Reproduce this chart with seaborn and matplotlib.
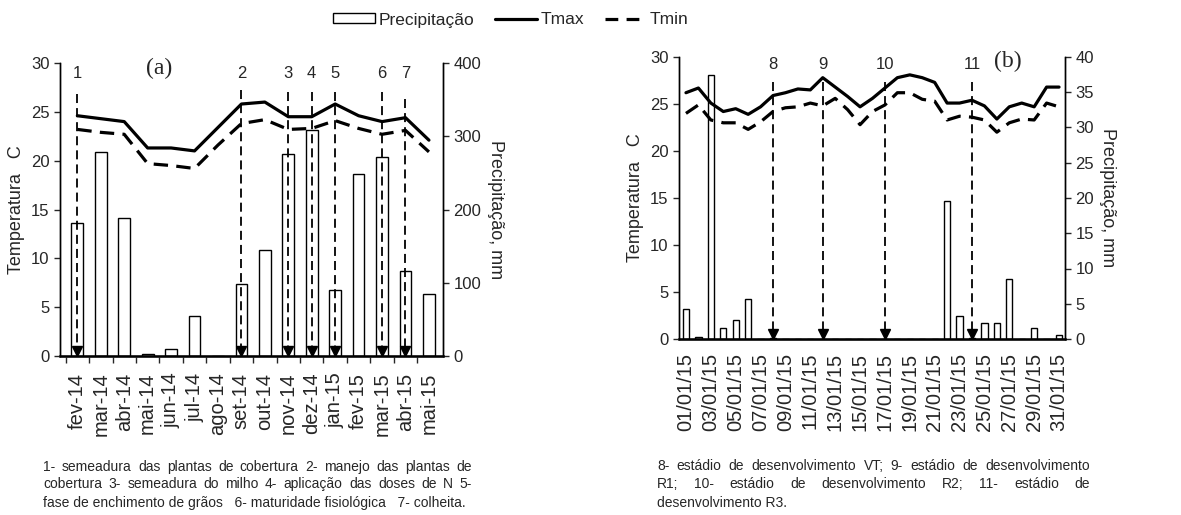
import numpy as np
import pandas as pd
import matplotlib
matplotlib.use("Agg")
import matplotlib.pyplot as plt
import seaborn as sns
from matplotlib.patches import Patch
from matplotlib.lines import Line2D

# panel (a) - monthly data
months = ["fev-14", "mar-14", "abr-14", "mai-14", "jun-14", "jul-14", "ago-14", "set-14",
          "out-14", "nov-14", "dez-14", "jan-15", "fev-15", "mar-15", "abr-15", "mai-15"]
tmax_a = [24.6, 24.3, 24.0, 21.3, 21.3, 21.0, 23.4, 25.8, 26.0, 24.5, 24.5, 25.8, 24.6, 24.0, 24.4, 22.1]
tmin_a = [23.2, 22.9, 22.7, 19.7, 19.5, 19.2, 21.6, 23.8, 24.2, 23.2, 23.3, 24.1, 23.3, 22.7, 23.1, 20.9]
prec_a = [181, 278, 188, 3, 9, 55, 0, 98, 145, 276, 308, 90, 248, 272, 116, 85]
ev_a_pos = [0, 7, 9, 10, 11, 13, 14]
ev_a_lab = ["1", "2", "3", "4", "5", "6", "7"]
ev_a_top = [26.8, 27.2, 27.0, 27.0, 27.0, 27.0, 26.3]

# panel (b) - daily data, january 2015
days = ["%02d/01/15" % d for d in range(1, 32)]
tmax_b = [26.2, 26.7, 25.1, 24.2, 24.5, 23.9, 24.7, 25.9, 26.2, 26.6, 26.5, 27.8, 26.8, 25.8, 24.7, 25.6,
          26.7, 27.8, 28.1, 27.8, 27.3, 25.1, 25.1, 25.4, 24.8, 23.4, 24.7, 25.1, 24.7, 26.8, 26.8]
tmin_b = [24.0, 24.9, 23.3, 23.0, 23.0, 22.3, 23.1, 24.2, 24.6, 24.7, 25.1, 24.8, 25.6, 24.4, 22.8, 24.2,
          24.9, 26.2, 26.2, 25.5, 25.3, 23.3, 23.7, 23.6, 23.3, 22.0, 23.0, 23.4, 23.3, 25.1, 24.7]
prec_b = [4.2, 0.3, 37.4, 1.5, 2.7, 5.7, 0, 0.1, 0, 0, 0, 0, 0, 0, 0, 0,
          0, 0, 0, 0, 0, 19.6, 3.3, 0.2, 2.3, 2.3, 8.5, 0, 1.5, 0, 0.5]
ev_b_pos = [7, 11, 16, 23]
ev_b_lab = ["8", "9", "10", "11"]
ev_b_top = [27.3, 27.3, 27.3, 27.3]

cap_a = ["1- semeadura das plantas de cobertura   2- manejo das plantas de",
         "cobertura   3- semeadura do milho   4- aplicação das doses de N   5-",
         "fase de enchimento de grãos   6- maturidade fisiológica   7- colheita."]
cap_b = ["8- estádio de desenvolvimento VT; 9- estádio de desenvolvimento",
         "R1; 10- estádio de desenvolvimento R2; 11- estádio de",
         "desenvolvimento R3."]

sns.set_style("ticks")
plt.rcParams["font.family"] = ["Liberation Sans", "DejaVu Sans"]

W, H = 1181, 515
fig = plt.figure(figsize=(W / 100, H / 100), dpi=100)


def panel(rect, cats, tmax, tmin, prec, pmax, pstep, ev_pos, ev_lab, ev_top, lab_y, tick_every, xlim, xticks_marks):
    ax = fig.add_axes(rect)
    ax2 = ax.twinx()
    df = pd.DataFrame({"cat": cats, "prec": prec})
    sns.barplot(data=df, x="cat", y="prec", ax=ax2, color="white", edgecolor="black",
                linewidth=1.0, width=0.5, saturation=1)
    x = np.arange(len(cats))
    sns.lineplot(x=x, y=tmax, ax=ax, color="black", lw=2.3)
    sns.lineplot(x=x, y=tmin, ax=ax, color="black", lw=2.3, linestyle=(0, (4.5, 2.6)))
    for p, l, t in zip(ev_pos, ev_lab, ev_top):
        ax.plot([p, p], [t, 0.55], color="black", lw=1.3, linestyle=(0, (5, 2.8)))
        ax.plot([p], [0.55], marker="v", color="black", markersize=7.5, linestyle="none")
        ax.text(p, lab_y, l, ha="center", va="center", fontsize=12)
    ax.set_zorder(ax2.get_zorder() + 1)
    ax.patch.set_visible(False)
    ax.set_ylim(0, 30)
    ax.set_yticks(range(0, 31, 5))
    ax2.set_ylim(0, pmax)
    ax2.set_yticks(np.arange(0, pmax + 0.1, pstep))
    ax.set_xlim(*xlim)
    ax.set_xticks(x[::tick_every])
    ax.set_xticklabels(cats[::tick_every], rotation=90, fontsize=14.5)
    ax2.set_xlabel("")
    ax.set_ylabel("Temperatura   C", fontsize=13)
    ax2.set_ylabel("Precipitação, mm", fontsize=13, rotation=270, labelpad=16)
    ax.tick_params(axis="y", labelsize=12, length=4, width=1)
    ax2.tick_params(axis="y", labelsize=12, length=4, width=1)
    if xticks_marks:
        ax.set_xticks(x - 0.5, minor=True)
        ax.tick_params(axis="x", which="major", length=0, pad=12)
        ax.tick_params(axis="x", which="minor", length=5, width=1)
    else:
        ax.tick_params(axis="x", length=0, pad=10)
    for a in (ax, ax2):
        a.spines["top"].set_visible(False)
        for s in ("left", "right", "bottom"):
            a.spines[s].set_color("black")
            a.spines[s].set_linewidth(1.0)
    ax2.spines["bottom"].set_linewidth(1.8)
    return ax


ax_a = panel([60 / W, 1 - 356 / H, 383 / W, 293 / H], months, tmax_a, tmin_a, prec_a, 400, 100,
             ev_a_pos, ev_a_lab, ev_a_top, 28.9, 1, (-0.74, 15.6), True)
ax_b = panel([679 / W, 1 - 339 / H, 386 / W, 282 / H], days, tmax_b, tmin_b, prec_b, 40, 5,
             ev_b_pos, ev_b_lab, ev_b_top, 29.2, 2, (-0.56, 30.48), False)

fig.text(159 / W, 1 - 68 / H, "(a)", family="Liberation Serif", fontsize=17, ha="center", va="center")
fig.text(1008 / W, 1 - 61 / H, "(b)", family="Liberation Serif", fontsize=17, ha="center", va="center")

handles = [Patch(facecolor="white", edgecolor="black", linewidth=1.0),
           Line2D([], [], color="black", lw=2.3),
           Line2D([], [], color="black", lw=2.3, linestyle=(0, (4, 2.6)))]
fig.legend(handles, ["Precipitação", "Tmax", "Tmin"], loc="center", bbox_to_anchor=(511 / W, 1 - 20 / H),
           ncol=3, frameon=False, fontsize=12.5, handlelength=2.4, handleheight=0.5,
           handletextpad=0.2, columnspacing=1.2)

# justified caption text under each panel
renderer = fig.canvas.get_renderer()


def caption(lines, x0, x1, ys, fs=10):
    for k, line in enumerate(lines):
        y = 1 - ys[k] / H
        if k == len(lines) - 1:
            fig.text(x0 / W, y, line, fontsize=fs, va="center", ha="left")
            continue
        words = line.split()
        txts = [fig.text(0, y, w, fontsize=fs, va="center", ha="left") for w in words]
        widths = [t.get_window_extent(renderer).width for t in txts]
        gap = (x1 - x0 - sum(widths)) / (len(words) - 1)
        pos = x0
        for t, w in zip(txts, widths):
            t.set_x(pos / W)
            pos += w + gap


caption(cap_a, 43, 472, [467, 484, 503])
caption(cap_b, 657, 1090, [466, 484, 503])

fig.savefig("out.png", dpi=100)
